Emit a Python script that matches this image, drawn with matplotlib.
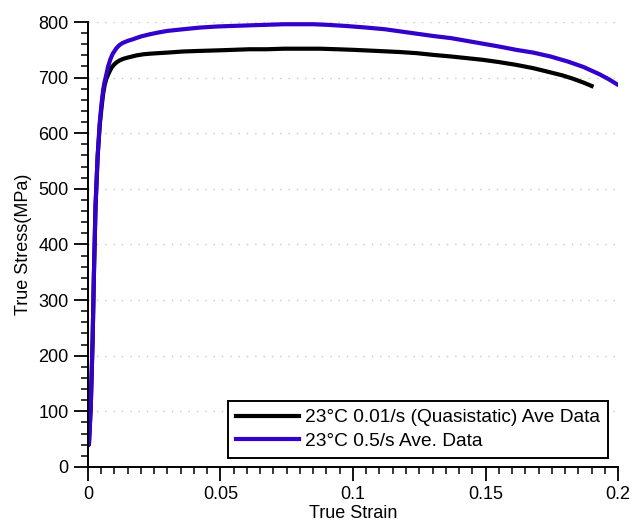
import matplotlib.pyplot as plt
from matplotlib.ticker import MultipleLocator

plt.rcParams['font.family'] = ['Liberation Sans', 'DejaVu Sans']

# averaged true stress-strain curves, 23C
strain_qs = [0.0, 0.0004, 0.0011, 0.0018, 0.0023, 0.0029, 0.0037, 0.0045, 0.0052,
             0.0058, 0.0064, 0.0070, 0.0077, 0.0083, 0.0091, 0.0100, 0.0110,
             0.0120, 0.0135, 0.0150, 0.0167, 0.0184, 0.0210, 0.0234, 0.0265,
             0.0300, 0.0360, 0.0420, 0.0490, 0.0550, 0.0610, 0.0675, 0.0740,
             0.0800, 0.0875, 0.0940, 0.1000, 0.1090, 0.1177, 0.1240, 0.1300,
             0.1370, 0.1430, 0.1490, 0.1550, 0.1615, 0.1680, 0.1740, 0.1790,
             0.1830, 0.1870, 0.1900]
stress_qs = [40, 40, 108, 229, 349, 469, 559, 615, 648,
             672, 688, 698, 706, 712, 719, 724, 728,
             731, 734, 736, 738, 740, 742, 743, 744,
             745, 747, 748, 749, 750, 751, 751, 752,
             752, 752, 751, 750, 748, 746, 744, 741,
             738, 735, 732, 728, 723, 717, 710, 704,
             698, 691, 685]

strain_fast = [0.0, 0.0004, 0.0011, 0.0018, 0.0023, 0.0029, 0.0037, 0.0045, 0.0052,
               0.0058, 0.0063, 0.0068, 0.0077, 0.0085, 0.0094, 0.0108, 0.0118,
               0.0130, 0.0150, 0.0170, 0.0200, 0.0234, 0.0265, 0.0300, 0.0360,
               0.0423, 0.0490, 0.0550, 0.0610, 0.0675, 0.0740, 0.0800, 0.0850,
               0.0900, 0.0970, 0.1050, 0.1120, 0.1180, 0.1240, 0.1300, 0.1370,
               0.1430, 0.1490, 0.1550, 0.1615, 0.1680, 0.1745, 0.1810, 0.1870,
               0.1930, 0.1965, 0.1996]
stress_fast = [40, 40, 108, 229, 349, 469, 559, 620, 655,
               679, 692, 702, 721, 733, 743, 753, 758,
               762, 766, 769, 774, 778, 781, 784, 787,
               790, 792, 793, 794, 795, 796, 796, 796,
               795, 793, 790, 787, 783, 779, 775, 771,
               766, 761, 756, 750, 745, 738, 729, 719,
               706, 697, 688]

fig = plt.figure(figsize=(6.32, 5.24), dpi=100)
ax = fig.add_axes([0.139, 0.109, 0.839, 0.849])

ax.plot(strain_qs, stress_qs, color='black', lw=3.0, solid_joinstyle='round',
        label='23\u00b0C 0.01/s (Quasistatic) Ave Data')
ax.plot(strain_fast, stress_fast, color='#3300cc', lw=3.0, solid_joinstyle='round',
        label='23\u00b0C 0.5/s Ave. Data')

ax.set_xlim(0, 0.2)
ax.set_ylim(0, 800)
ax.xaxis.set_minor_locator(MultipleLocator(0.005))
ax.yaxis.set_major_locator(MultipleLocator(100))
ax.yaxis.set_minor_locator(MultipleLocator(20))
ax.set_xticks([0, 0.05, 0.1, 0.15, 0.2])
ax.set_xticklabels(['0', '0.05', '0.1', '0.15', '0.2'])

ax.tick_params(which='major', length=10, width=1.3, labelsize=13, pad=4)
ax.tick_params(which='minor', length=5, width=1.1)
ax.spines['top'].set_visible(False)
ax.spines['right'].set_visible(False)
ax.spines['left'].set_linewidth(1.4)
ax.spines['bottom'].set_linewidth(1.4)

ax.yaxis.grid(True, which='major', color='#c8c8c8', linestyle=(0, (1, 5)), lw=1.0)
ax.set_axisbelow(True)

ax.set_xlabel('True Strain', fontsize=13, labelpad=1)
ax.set_ylabel('True Stress(MPa)', fontsize=13, labelpad=4)

leg = ax.legend(loc='lower right', bbox_to_anchor=(0.981, 0.02), borderaxespad=0,
                fontsize=13.8, fancybox=False, framealpha=1, edgecolor='black',
                handlelength=3.3, handletextpad=0.3, labelspacing=0.32,
                borderpad=0.42)
leg.get_frame().set_linewidth(1.4)

fig.savefig('out.png', dpi=100)
